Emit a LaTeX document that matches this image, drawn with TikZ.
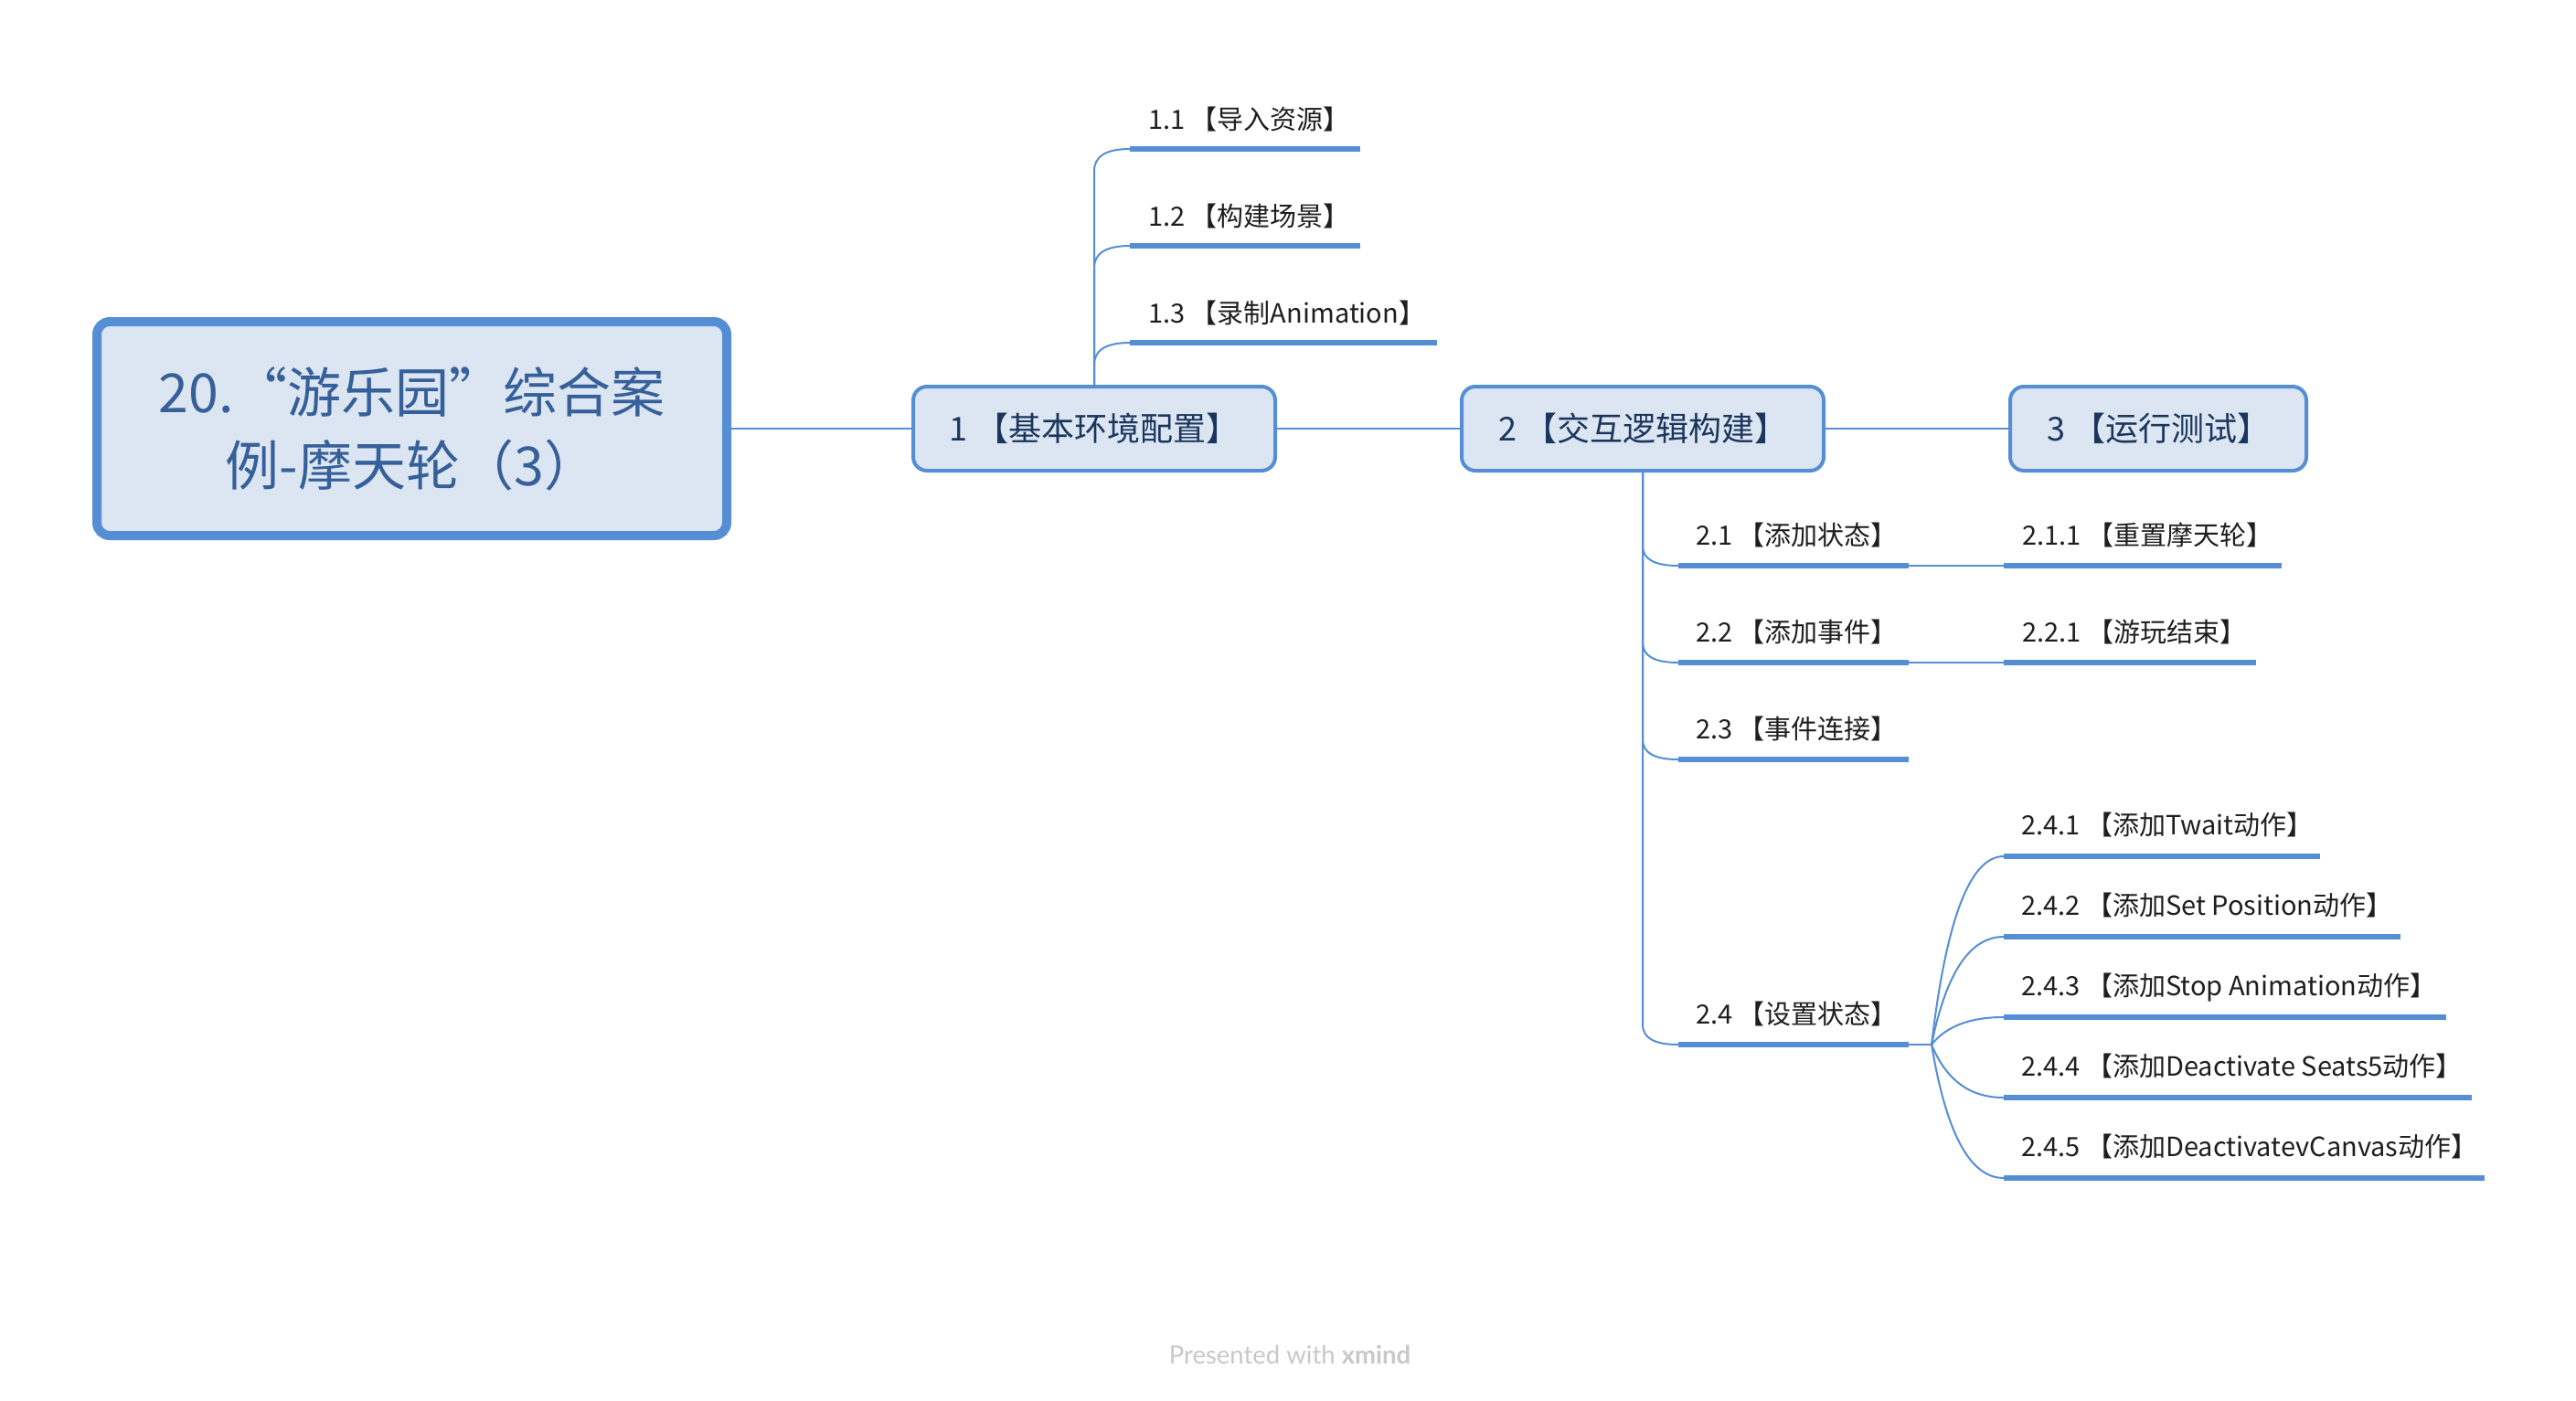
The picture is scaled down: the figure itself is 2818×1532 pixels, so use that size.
\documentclass[tikz,border=0pt]{standalone}
\usepackage{fontspec}
\setmainfont{Noto Sans CJK SC}
\newfontfamily\footfont{Lato}
\usetikzlibrary{calc}
\definecolor{lineblue}{HTML}{558ED5}
\definecolor{boxfill}{HTML}{DCE6F2}
\definecolor{roottext}{HTML}{36609A}
\definecolor{nodetext}{HTML}{1B365D}
\definecolor{leaftext}{HTML}{1E1E1E}
\definecolor{foottext}{HTML}{C8C8C8}
\begin{document}
\begin{tikzpicture}[x=1pt,y=-1pt,
  rootbox/.style={draw=lineblue, line width=10pt, fill=boxfill, rounded corners=14pt,
    minimum width=689pt, minimum height=234pt, inner sep=0pt, align=center,
    text=roottext, font=\fontsize{59}{80}\selectfont},
  topicbox/.style={draw=lineblue, line width=4pt, fill=boxfill, rounded corners=15pt,
    minimum height=92pt, inner sep=0pt, text=nodetext, font=\fontsize{36}{40}\selectfont},
  conn/.style={draw=lineblue, line width=2pt},
  uline/.style={draw=lineblue, line width=5.4pt},
  leaf/.style={anchor=base west, inner sep=0pt, text=leaftext, font=\fontsize{29}{32}\selectfont},
]
\fill[white] (0,0) rectangle (2818,1532);
\useasboundingbox (0,0) rectangle (2818,1532);

% main topics
\node[rootbox] (root) at (450.5,469) {20.“游乐园”综合案\\例-摩天轮（3）};
\node[topicbox, minimum width=396pt] (n1) at (1197,469) {1 【基本环境配置】};
\node[topicbox, minimum width=396pt] (n2) at (1797,469) {2 【交互逻辑构建】};
\node[topicbox, minimum width=324pt] (n3) at (2361,469) {3 【运行测试】};

\draw[conn] (root.east) -- (n1.west);
\draw[conn] (n1.east) -- (n2.west);
\draw[conn] (n2.east) -- (n3.west);

% underline coordinates
\coordinate (u11s) at (1236,163); \coordinate (u11e) at (1488,163);
\coordinate (u12s) at (1236,269); \coordinate (u12e) at (1488,269);
\coordinate (u13s) at (1236,375); \coordinate (u13e) at (1572,375);
\coordinate (u21s) at (1836,619); \coordinate (u21e) at (2088,619);
\coordinate (u22s) at (1836,725); \coordinate (u22e) at (2088,725);
\coordinate (u23s) at (1836,831); \coordinate (u23e) at (2088,831);
\coordinate (u24s) at (1836,1143); \coordinate (u24e) at (2088,1143);
\coordinate (u211s) at (2192,619); \coordinate (u211e) at (2496,619);
\coordinate (u221s) at (2192,725); \coordinate (u221e) at (2468,725);
\coordinate (u241s) at (2192,937); \coordinate (u241e) at (2538,937);
\coordinate (u242s) at (2192,1025); \coordinate (u242e) at (2626,1025);
\coordinate (u243s) at (2192,1113); \coordinate (u243e) at (2676,1113);
\coordinate (u244s) at (2192,1201); \coordinate (u244e) at (2704,1201);
\coordinate (u245s) at (2192,1289); \coordinate (u245e) at (2718,1289);
\coordinate (j24) at (2113,1143);

% connectors of topic 1
\foreach \u in {u11s,u12s,u13s}
  \draw[conn] (n1.north) -- ($(n1.north |- \u)+(0,24)$) .. controls +(0,-16) and +(-26,0) .. (\u);
% connectors of topic 2
\foreach \u in {u21s,u22s,u23s,u24s}
  \draw[conn] (n2.south) -- ($(n2.south |- \u)+(0,-22)$) .. controls +(0,15) and +(-26,0) .. (\u);
\draw[conn] (u21e) -- (u211s);
\draw[conn] (u22e) -- (u221s);
\draw[conn] (u24e) -- (j24);
\draw[conn] (j24) .. controls +(16,-137) and +(-37,0) .. (u241s);
\draw[conn] (j24) .. controls +(16,-79) and +(-37,0) .. (u242s);
\draw[conn] (j24) .. controls +(16,-20) and +(-37,0) .. (u243s);
\draw[conn] (j24) .. controls +(16,39) and +(-37,0) .. (u244s);
\draw[conn] (j24) .. controls +(16,97) and +(-37,0) .. (u245s);

% underlines
\foreach \a in {11,12,13,21,22,23,24,211,221,241,242,243,244,245}
  \draw[uline] (u\a s) -- (u\a e);

% leaf texts
\node[leaf] (t11) at ($(u11s)+(20,-22)$) {1.1 【导入资源】};
\node[leaf] (t12) at ($(u12s)+(20,-22)$) {1.2 【构建场景】};
\node[leaf] (t13) at ($(u13s)+(20,-22)$) {1.3 【录制Animation】};
\node[leaf] (t21) at ($(u21s)+(19,-23)$) {2.1 【添加状态】};
\node[leaf] (t22) at ($(u22s)+(19,-23)$) {2.2 【添加事件】};
\node[leaf] (t23) at ($(u23s)+(19,-23)$) {2.3 【事件连接】};
\node[leaf] (t24) at ($(u24s)+(19,-23)$) {2.4 【设置状态】};
\node[leaf] (t211) at ($(u211s)+(20,-23)$) {2.1.1 【重置摩天轮】};
\node[leaf] (t221) at ($(u221s)+(20,-23)$) {2.2.1 【游玩结束】};
\node[leaf] (t241) at ($(u241s)+(19,-24)$) {2.4.1 【添加Twait动作】};
\node[leaf] (t242) at ($(u242s)+(19,-24)$) {2.4.2 【添加Set Position动作】};
\node[leaf] (t243) at ($(u243s)+(19,-24)$) {2.4.3 【添加Stop Animation动作】};
\node[leaf] (t244) at ($(u244s)+(19,-24)$) {2.4.4 【添加Deactivate Seats5动作】};
\node[leaf] (t245) at ($(u245s)+(19,-24)$) {2.4.5 【添加DeactivatevCanvas动作】};

% footer
\node[anchor=base, inner sep=0pt, text=foottext, font=\footfont\fontsize{27.5}{30}\selectfont] (foot) at (1411,1492) {Presented with \textbf{xmind}};
\end{tikzpicture}
\end{document}
